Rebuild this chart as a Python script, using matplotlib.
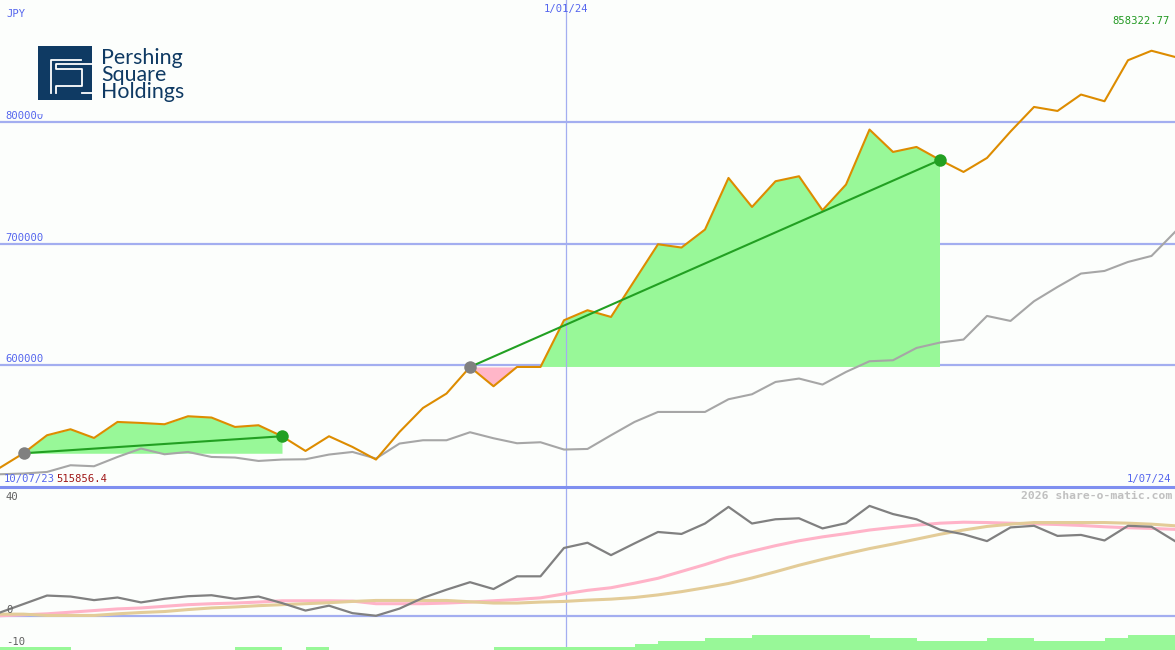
import numpy as np
import matplotlib
matplotlib.use("Agg")
import matplotlib.pyplot as plt
from matplotlib.patches import Rectangle

# ---------------- data ----------------
price = [515856, 527720, 542505, 547433, 540287, 553429, 552608, 551540, 558111, 557043,
         549322, 550719, 541684, 529610, 541684, 532895, 522546, 545216, 564928, 576756,
         598604, 582751, 598604, 598604, 636961, 645175, 639672, 669569, 699385, 696674,
         711459, 753841, 730021, 751130, 755237, 727311, 748420, 793594, 775196, 779303,
         768625, 758769, 770268, 791952, 812157, 808872, 822342, 816839, 850515, 858322.77,
         853226]
bench = [510472, 511047, 512361, 517864, 517043, 524681, 531581, 526899, 528789, 524681,
         524188, 521396, 522546, 522792, 526653, 528789, 523367, 535687, 538398, 538398,
         544969, 540041, 535934, 536755, 530760, 531252, 542505, 553429, 561643, 561643,
         561643, 572074, 576181, 586283, 589076, 584148, 594497, 603285, 604107, 614210,
         618645, 621109, 640493, 636386, 652567, 664313, 675318, 677454, 684847, 689775,
         709487]
momentum = [1.0, 3.6, 6.2, 5.9, 4.8, 5.6, 4.1, 5.2, 6.0, 6.3,
            5.2, 5.9, 3.9, 1.6, 3.1, 0.8, 0.0, 2.2, 5.5, 8.0,
            10.3, 8.2, 12.1, 12.1, 20.8, 22.4, 18.6, 22.2, 25.7, 25.1,
            28.3, 33.4, 28.3, 29.6, 29.9, 26.8, 28.4, 33.7, 31.2, 29.6,
            26.4, 25.0, 22.9, 27.1, 27.6, 24.5, 24.8, 23.1, 27.6, 27.3,
            22.9]
avg_fast = [0.0, 0.3, 0.6, 1.1, 1.6, 2.1, 2.4, 2.9, 3.4, 3.7,
            3.9, 4.2, 4.6, 4.6, 4.6, 4.5, 3.7, 3.7, 3.7, 3.9,
            4.2, 4.6, 5.0, 5.5, 6.7, 7.8, 8.6, 10.0, 11.5, 13.6,
            15.7, 18.0, 19.8, 21.5, 23.0, 24.2, 25.2, 26.3, 27.1, 27.8,
            28.4, 28.7, 28.6, 28.4, 28.2, 28.0, 27.7, 27.3, 27.0, 26.8,
            26.5]
avg_slow = [0.5, 0.5, 0.1, 0.1, 0.1, 0.6, 1.0, 1.3, 1.9, 2.4,
            2.7, 3.1, 3.4, 3.7, 4.0, 4.4, 4.7, 4.7, 4.7, 4.7,
            4.3, 3.9, 3.9, 4.2, 4.4, 4.8, 5.1, 5.6, 6.4, 7.4,
            8.6, 9.9, 11.6, 13.5, 15.5, 17.3, 19.0, 20.6, 22.0, 23.5,
            25.0, 26.3, 27.4, 28.1, 28.6, 28.6, 28.6, 28.6, 28.4, 28.1,
            27.6]
# histogram bars, one per interval between points
bars = [0.9, 0.9, 0.9, 0, 0, 0, 0, 0, 0, 0,
        0.9, 0.9, 0, 0.9, 0, 0, 0, 0, 0, 0,
        0, 0.9, 0.9, 0.9, 0.9, 0.9, 0.9, 1.85, 2.8, 2.8,
        3.7, 3.7, 4.6, 4.6, 4.6, 4.6, 4.6, 3.7, 3.7, 2.8,
        2.8, 2.8, 3.7, 3.7, 2.8, 2.8, 2.8, 3.7, 4.6, 4.6]
seg_start = [1, 20]
seg_end = [12, 40]
main_ticks = [600000, 700000, 800000]
main_tick_labels = ["600000", "700000", "800000"]
start_label, end_label, mid_label = "10/07/23", "1/07/24", "1/01/24"
mid_pos = 24.1
currency = "JPY"
min_label = "515856.4"
max_label = "858322.77"
lower_labels = ["40", "0", "-10"]
logo_words = ["Pershing", "Square", "Holdings"]

# ---------------- style ----------------
W, H = 1175, 650
BG = "#fcfefc"
GRID = "#a3aef0"
SEP = "#7f8ff0"
BLUE_TXT = "#5566ee"
ORANGE = "#dd8c00"
GREY = "#a6a6a6"
FILLG = "#98f898"
FILLP = "#ffb6c8"
TREND = "#22a022"
MONO = "DejaVu Sans Mono"

fig = plt.figure(figsize=(W / 100, H / 100), dpi=100)
fig.patch.set_facecolor(BG)

def px(x, y):
    return x / W, 1 - y / H

split = 487
ax = fig.add_axes([0, (H - split) / H, 1, split / H])
ax2 = fig.add_axes([0, 0, 1, (H - split) / H])
for a in (ax, ax2):
    a.set_facecolor(BG)
    a.set_axis_off()
    a.set_xlim(0, len(price) - 1)

x = np.arange(len(price))
p = np.array(price, dtype=float)
ax.set_ylim(500000, 900000)
for t in main_ticks:
    ax.axhline(t, color=GRID, lw=1.6, zorder=1)
ax.axvline(mid_pos, color=GRID, lw=0.9, zorder=4)

for s, e in zip(seg_start, seg_end):
    xs = x[s:e + 1]
    ys = p[s:e + 1]
    base = p[s]
    ax.fill_between(xs, base, ys, where=ys >= base, interpolate=True,
                    color=FILLG, lw=0, zorder=2)
    ax.fill_between(xs, base, ys, where=ys <= base, interpolate=True,
                    color=FILLP, lw=0, zorder=2)

ax.plot(x, bench, color=GREY, lw=1.5, zorder=5)
ax.plot(x, p, color=ORANGE, lw=1.5, zorder=6)
for s, e in zip(seg_start, seg_end):
    ax.plot([x[s], x[e]], [p[s], p[e]], color=TREND, lw=1.5, zorder=7)
    ax.plot([x[s]], [p[s]], "o", color="#808080", ms=9, zorder=8, mec="none")
    ax.plot([x[e]], [p[e]], "o", color=TREND, ms=9, zorder=8, mec="none")

# lower panel
ax2.set_ylim(-10.5, 39.5)
ax2.axhline(0, color=GRID, lw=1.6, zorder=1)
ax2.bar(np.arange(len(bars)) + 0.5, bars, width=1.0, bottom=-10.5,
        color=FILLG, lw=0, zorder=2)
ax2.plot(x, avg_fast, color="#ffb3c8", lw=2.2, zorder=3)
ax2.plot(x, avg_slow, color="#e3cc98", lw=2.2, zorder=3)
ax2.plot(x, momentum, color="#808080", lw=1.6, zorder=4)
ax2.axvline(mid_pos, color=GRID, lw=0.9, zorder=1)

# separator
fig.add_artist(plt.Line2D([0, 1], [1 - split / H, 1 - split / H],
                          color=SEP, lw=2.2, transform=fig.transFigure))

# ---------------- texts ----------------
fs = 7.6
fig.text(*px(6, 14), currency, fontsize=fs, family=MONO, color=BLUE_TXT, va="center")
ypos = {"600000": 359, "700000": 238, "800000": 116}
for lab in main_tick_labels:
    fig.text(*px(5, ypos[lab]), lab, fontsize=fs, family=MONO, color=BLUE_TXT, va="center")
fig.text(*px(566, 9), mid_label, fontsize=fs, family=MONO, color=BLUE_TXT,
         va="center", ha="center")
fig.text(*px(1170, 21), max_label, fontsize=fs, family=MONO, color="#229922",
         va="center", ha="right")
fig.text(*px(4, 479), start_label, fontsize=fs, family=MONO, color=BLUE_TXT, va="center")
fig.text(*px(56, 479), min_label, fontsize=fs, family=MONO, color="#a01818", va="center")
fig.text(*px(1171, 479), end_label, fontsize=fs, family=MONO, color=BLUE_TXT,
         va="center", ha="right")
fig.text(*px(1172, 496), "2026 share-o-matic.com", fontsize=8.2, family=MONO,
         color="#c0c0c0", va="center", ha="right", fontweight="bold")
lpos = {"40": 497, "0": 610, "-10": 642}
for lab in lower_labels:
    fig.text(*px(6, lpos[lab]), lab, fontsize=fs, family=MONO, color="#606060", va="center")

# ---------------- logo ----------------
NAVY = "#0f3a63"
fig.add_artist(Rectangle(px(37, 114), 160 / W, 76 / H, transform=fig.transFigure,
                         facecolor=BG, edgecolor="none", zorder=9))
fig.add_artist(Rectangle(px(38, 100), 54 / W, 54 / H, transform=fig.transFigure,
                         facecolor=NAVY, edgecolor="none", zorder=10))
def wline(pts):
    xs = [q[0] / W for q in pts]
    ys = [1 - q[1] / H for q in pts]
    fig.add_artist(plt.Line2D(xs, ys, color="white", lw=1.3,
                              transform=fig.transFigure, zorder=11))
wline([(81, 59.5), (51, 59.5), (51, 93)])
wline([(56, 93), (56, 86), (82, 86), (82, 69), (56, 69), (56, 64), (92, 64)])
wline([(82, 93), (92, 93)])
fig.text(*px(101, 75), "\n".join(logo_words), fontsize=15.4, family="Lato",
         color=NAVY, va="center", ha="left", linespacing=0.8, zorder=12)

fig.savefig("out.png", dpi=100, facecolor=BG)
